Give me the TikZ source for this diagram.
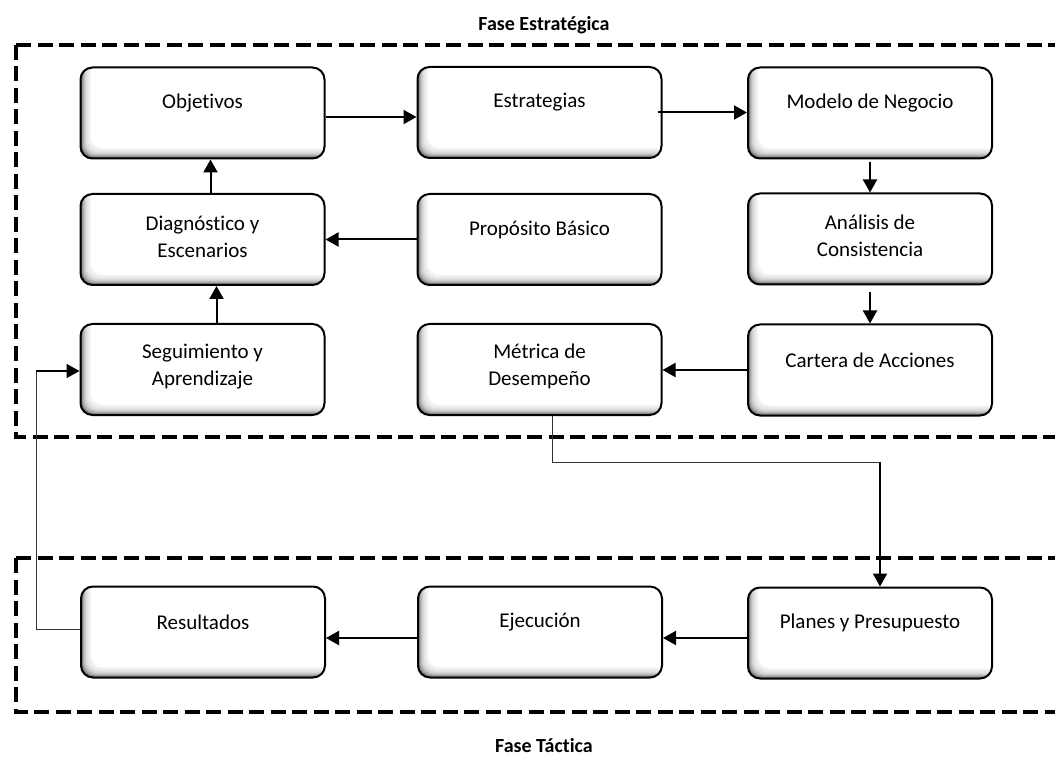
\documentclass[tikz,border=0pt]{standalone}
\usepackage{fontspec}
\setmainfont{Carlito}[Ligatures=NoCommon]
\usetikzlibrary{arrows.meta}

\begin{document}
\begin{tikzpicture}[x=1pt,y=-1pt,
  box/.style={draw, line width=2pt, rounded corners=12pt,
    minimum width=244pt, minimum height=91pt, inner sep=0pt, fill=black!62,
    path picture={
      \foreach \d in {1,...,9}{
        \fill[white, opacity=0.26, rounded corners=12pt]
          ([shift={(\d pt,\d pt)}]path picture bounding box.south west) rectangle
          ([shift={(20pt,20pt)}]path picture bounding box.north east);
      }
      \fill[white, rounded corners=12pt]
        ([shift={(10pt,10pt)}]path picture bounding box.south west) rectangle
        ([shift={(20pt,20pt)}]path picture bounding box.north east);
    }},
  lbl/.style={font=\fontsize{21}{27}\selectfont, align=center, inner sep=0pt},
  flow/.style={line width=2pt, -{Triangle[length=13pt,width=14pt]}},
  thinline/.style={line width=1pt, draw=black!80},
  frame/.style={line width=4pt, dash pattern=on 15pt off 6.5pt},
  title/.style={font=\fontsize{20}{24}\selectfont\bfseries, anchor=base}
]
\useasboundingbox (0,0) rectangle (1055,759);

% phase frames, open to the right
\draw[frame] (16,45) -- (1055,45);
\draw[frame] (16,45) -- (16,437) -- (1055,437);
\draw[frame] (16,558) -- (1055,558);
\draw[frame] (16,558) -- (16,712) -- (1055,712);

\node[title] (tEst) at (544,31) {Fase Estratégica};
\node[title] (tTac) at (544,752) {Fase Táctica};

% boxes
\node[box] (obj) at (202.5,113) {};
\node[box] (est) at (539.5,112.5) {};
\node[box] (mod) at (870,113) {};
\node[box] (dia) at (202.5,239.5) {};
\node[box] (pro) at (539.5,239.5) {};
\node[box] (ana) at (870,239) {};
\node[box] (seg) at (202.5,369.5) {};
\node[box] (met) at (539.5,369.5) {};
\node[box] (car) at (870,370) {};
\node[box] (res) at (203,632) {};
\node[box] (eje) at (540,632) {};
\node[box] (pla) at (870,633) {};

% box texts
\node[lbl] (objT) at ([yshift=10pt]obj.center) {Objetivos};
\node[lbl] (estT) at ([yshift=10pt]est.center) {Estrategias};
\node[lbl] (modT) at ([yshift=10pt]mod.center) {Modelo de Negocio};
\node[lbl] (diaT) at ([yshift=3pt]dia.center) {Diagnóstico y\\Escenarios};
\node[lbl] (proT) at ([yshift=10pt]pro.center) {Propósito Básico};
\node[lbl] (anaT) at ([yshift=3pt]ana.center) {Análisis de\\Consistencia};
\node[lbl] (segT) at ([yshift=3pt]seg.center) {Seguimiento y\\Aprendizaje};
\node[lbl] (metT) at ([yshift=3pt]met.center) {Métrica de\\Desempeño};
\node[lbl] (carT) at ([yshift=10pt]car.center) {Cartera de Acciones};
\node[lbl] (resT) at ([yshift=10pt]res.center) {Resultados};
\node[lbl] (ejeT) at ([yshift=10pt]eje.center) {Ejecución};
\node[lbl] (plaT) at ([yshift=10pt]pla.center) {Planes y Presupuesto};

% connectors
\draw[flow] ([yshift=-4pt]obj.east) -- ([yshift=-4pt]obj.east -| est.west);
\draw[flow] ([xshift=-5pt]est.east) -- (est.east -| mod.west);
\draw[flow] ([yshift=-3pt]mod.south) -- (ana.north);
\draw[flow] ([yshift=-7pt]ana.south) -- (car.north);
\draw[flow] (car.west) -- (car.west -| met.east);
\draw[flow] (pro.west) -- (pro.west -| dia.east);
\draw[flow] ([xshift=8pt]dia.north) -- ([xshift=8pt]obj.south);
\draw[flow] ([xshift=14pt]seg.north) -- ([xshift=14pt]dia.south);
\draw[flow] ([yshift=-5pt]pla.west) -- ([yshift=-5pt]pla.west -| eje.east);
\draw[flow] ([yshift=-6pt]eje.west) -- ([yshift=-6pt]eje.west -| res.east);

\coordinate (knee) at (880,462);
\draw[thinline] ([xshift=12.5pt]met.south) |- (knee);
\draw[flow] (knee) -- (knee |- pla.north);

\coordinate (loop) at (36,371);
\draw[thinline] ([yshift=3pt]res.west) -| (loop);
\draw[flow, line width=1.5pt] (loop) -- (loop -| seg.west);
\end{tikzpicture}
\end{document}
